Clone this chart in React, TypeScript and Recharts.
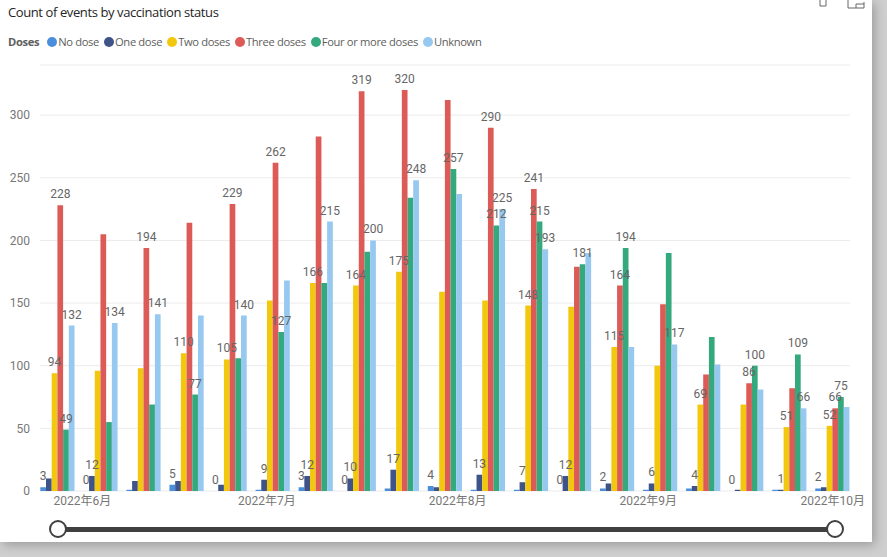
import React from 'react';
import { BarChart, Bar, XAxis, YAxis, CartesianGrid, LabelList } from 'recharts';

// week-ending dates (Saturdays)
const weeks = [
  '2022-05-28', '2022-06-04', '2022-06-11', '2022-06-18', '2022-06-25',
  '2022-07-02', '2022-07-09', '2022-07-16', '2022-07-23', '2022-07-30',
  '2022-08-06', '2022-08-13', '2022-08-20', '2022-08-27', '2022-09-03',
  '2022-09-10', '2022-09-17', '2022-09-24', '2022-10-01'
];
const monthTicks = ['2022-06-01', '2022-07-01', '2022-08-01', '2022-09-01', '2022-10-01'];
const yTicks = [0, 50, 100, 150, 200, 250, 300];

const noDose = [3, 0, 1, 5, 0, 1, 3, 0, 2, 4, 1, 1, 0, 2, 1, 2, 0, 1, 2];
const oneDose = [10, 12, 8, 8, 5, 9, 12, 10, 17, 3, 13, 7, 12, 6, 6, 4, 1, 1, 3];
const twoDoses = [94, 96, 98, 110, 105, 152, 166, 164, 175, 159, 152, 148, 147, 115, 100, 69, 69, 51, 52];
const threeDoses = [228, 205, 194, 214, 229, 262, 283, 319, 320, 312, 290, 241, 179, 164, 149, 93, 86, 82, 66];
const fourPlus = [49, 55, 69, 77, 106, 127, 166, 191, 234, 257, 212, 215, 181, 194, 190, 123, 100, 109, 75];
const unknown = [132, 134, 141, 140, 140, 168, 215, 200, 248, 237, 225, 193, 190, 115, 117, 101, 81, 66, 67];

// which weeks show a data label (Power BI hides the ones that collide)
const noDoseLabels = [0, 1, 3, 4, 6, 7, 9, 12, 13, 16, 18];
const oneDoseLabels = [1, 5, 6, 7, 8, 10, 11, 12, 14, 15, 17];
const twoDosesLabels = [0, 3, 4, 6, 7, 8, 11, 13, 15, 17, 18];
const threeDosesLabels = [0, 2, 4, 5, 7, 8, 10, 11, 13, 16, 18];
const fourPlusLabels = [0, 3, 5, 9, 10, 11, 12, 13, 16, 17, 18];
const unknownLabels = [0, 1, 2, 4, 6, 7, 8, 10, 11, 14, 17];

const series = [
  { key: 'no', name: 'No dose', values: noDose, labels: noDoseLabels, color: '#4a8fdb' },
  { key: 'one', name: 'One dose', values: oneDose, labels: oneDoseLabels, color: '#3e5388' },
  { key: 'two', name: 'Two doses', values: twoDoses, labels: twoDosesLabels, color: '#f2c80f' },
  { key: 'three', name: 'Three doses', values: threeDoses, labels: threeDosesLabels, color: '#dc5b57' },
  { key: 'four', name: 'Four or more doses', values: fourPlus, labels: fourPlusLabels, color: '#33a97d' },
  { key: 'unknown', name: 'Unknown', values: unknown, labels: unknownLabels, color: '#97c8ef' }
];

const DAY = 86400000;
const base = Date.UTC(2022, 4, 28);
const toDay = (s: string) => {
  const [y, m, d] = s.split('-').map(Number);
  return (Date.UTC(y, m - 1, d) - base) / DAY;
};

const data = weeks.map((w, i) => {
  const row: any = { day: toDay(w) };
  series.forEach(s => {
    row[s.key] = s.values[i];
    row[s.key + 'Lbl'] = s.labels.includes(i) ? s.values[i] : null;
  });
  return row;
});

const xTicks = monthTicks.map(toDay);
const dayToLabel = (d: number) => {
  const dt = new Date(base + d * DAY);
  return `${dt.getUTCFullYear()}年${dt.getUTCMonth() + 1}月`;
};

const uiFont = "'Open Sans', 'Noto Sans', sans-serif";
const numFont = "Roboto, 'Noto Sans CJK SC', sans-serif";

export default function App() {
  return <div style={{ position: 'fixed', left: 0, top: 0, width: 887, height: 557, background: '#cfcfcf', overflow: 'hidden' }}>
      <div style={{ position: 'absolute', left: 0, top: 0, width: 872, height: 542, background: '#fff', boxShadow: '3px 3px 10px rgba(0,0,0,0.25)' }} />
      <div style={{ position: 'absolute', left: 8, top: 3, fontFamily: uiFont, fontSize: 13, color: '#252423', letterSpacing: -0.4 }}>
        Count of events by vaccination status
      </div>
      <div style={{ position: 'absolute', left: 8, top: 34, display: 'flex', alignItems: 'center', fontFamily: uiFont, fontSize: 11.2, color: '#605e5c', letterSpacing: -0.35 }}>
        <span style={{ fontWeight: 700, marginRight: 8 }}>Doses</span>
        {series.map(s => <span key={s.key} style={{ display: 'flex', alignItems: 'center', marginRight: 5 }}>
            <span style={{ width: 10, height: 10, borderRadius: 5, background: s.color, marginRight: 1 }} />
            {s.name}
          </span>)}
      </div>
      <svg style={{ position: 'absolute', left: 0, top: 0 }} width={887} height={20}>
        <path d="M820 0 L820 6 L826 6 L826 0" fill="none" stroke="#666" strokeWidth={1} />
        <path d="M848 0 L848 8 L864 8 L864 2 M856 8 L856 4 L864 4" fill="none" stroke="#666" strokeWidth={1} />
      </svg>
      <div style={{ position: 'absolute', left: 0, top: 0 }}>
        <BarChart width={887} height={557} data={data} margin={{ top: 65, right: 37, bottom: 0, left: 0 }} barSize={5.7} barGap={0}>
          <CartesianGrid vertical={false} stroke="#ebebeb" />
          <XAxis dataKey="day" type="number" scale="linear" domain={[-2.9, 128.8]} allowDataOverflow ticks={xTicks} tickFormatter={dayToLabel} interval={0} axisLine={false} tickLine={false} tickSize={0} tickMargin={5} height={66} tick={{ fill: '#777', fontSize: 12, fontFamily: numFont }} />
          <YAxis domain={[0, 340]} ticks={yTicks} allowDataOverflow axisLine={false} tickLine={false} tickSize={0} tickMargin={10} width={40} tick={{ fill: '#777', fontSize: 12, fontFamily: numFont }} />
          {series.map(s => <Bar key={s.key} dataKey={s.key} name={s.name} fill={s.color} minPointSize={0.01} isAnimationActive={false}>
              <LabelList dataKey={s.key + 'Lbl'} position="top" offset={7} fill="#666" fontSize={12} fontFamily={numFont} />
            </Bar>)}
        </BarChart>
      </div>
      <div style={{ position: 'absolute', left: 58, top: 527, width: 777, height: 5, background: '#404040' }} />
      <div style={{ position: 'absolute', left: 49, top: 520, width: 14, height: 14, borderRadius: 9, background: '#fff', border: '2px solid #404040' }} />
      <div style={{ position: 'absolute', left: 826, top: 520, width: 14, height: 14, borderRadius: 9, background: '#fff', border: '2px solid #404040' }} />
    </div>;
}
